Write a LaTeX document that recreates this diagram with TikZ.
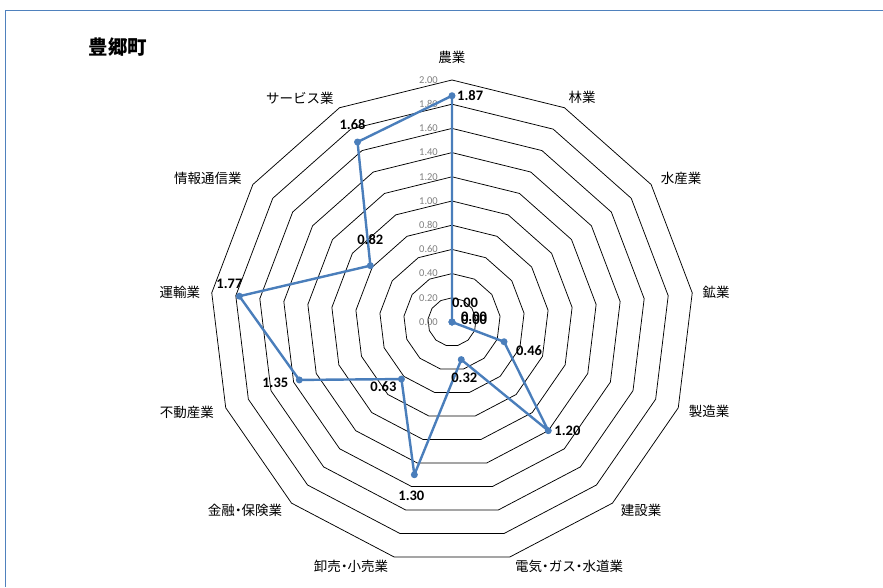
\documentclass[tikz,border=0pt]{standalone}
\usepackage{fontspec}
\setmainfont{Carlito}
\newfontfamily\jpfont{Noto Sans CJK JP}
\usepackage{tikz}
\usetikzlibrary{positioning}
\definecolor{seriesblue}{RGB}{74,126,187}
\definecolor{frameblue}{RGB}{79,129,189}
\newcommand\nakadot{\kern-.25em・\kern-.25em}

\begin{document}
\begin{tikzpicture}[x=1pt,y=1pt,
    ring/.style={draw=black, line width=0.75pt},
    cat/.style={font=\jpfont\fontsize{13.5}{14}\selectfont, inner sep=0pt},
    val/.style={font=\bfseries\fontsize{14.5}{15}\selectfont, inner sep=0pt},
    tick/.style={font=\fontsize{10.5}{11}\selectfont, text=black!50, anchor=east, inner sep=0pt},
    series/.style={draw=seriesblue, line width=2.4pt, line join=round},
    dot/.style={fill=seriesblue}]
    \useasboundingbox (-452,-265) rectangle (431,322);

    % Draw frame
    \draw[frameblue, line width=1pt] (431,311) -- (-446,311) -- (-446,-265);

    % Draw title
    \node[font=\jpfont\bfseries\fontsize{19.5}{20}\selectfont] (title) at (-334,275) {豊郷町};

    % Draw rings
    \foreach \r in {1,...,10}
        \draw[ring] (90:\r*24.2) \foreach \k in {1,...,12} { -- ({90-\k*360/13}:{\r*24.2}) } -- cycle;

    % Draw scale labels
    \foreach \i/\lab in {0/0.00,1/0.20,2/0.40,3/0.60,4/0.80,5/1.00,6/1.20,7/1.40,8/1.60,9/1.80,10/2.00}
        \node[tick] (t\i) at (-14,\i*24.2) {\lab};

    % Draw category labels
    \node[cat] (c0) at (0,265) {農業};
    \node[cat] (c1) at (130,225) {林業};
    \node[cat] (c2) at (229,144) {水産業};
    \node[cat] (c3) at (264,30) {鉱業};
    \node[cat] (c4) at (257,-89) {製造業};
    \node[cat] (c5) at (189,-188) {建設業};
    \node[cat] (c6) at (117,-244) {電気\nakadot ガス\nakadot 水道業};
    \node[cat] (c7) at (-101,-244) {卸売\nakadot 小売業};
    \node[cat] (c8) at (-207,-188) {金融\nakadot 保険業};
    \node[cat] (c9) at (-265,-90) {不動産業};
    \node[cat] (c10) at (-272,30) {運輸業};
    \node[cat] (c11) at (-244,144) {情報通信業};
    \node[cat] (c12) at (-152,224) {サービス業};

    % Draw data points
    \foreach \k/\v in {0/1.87,1/0,2/0,3/0,4/0.46,5/1.20,6/0.32,7/1.30,8/0.63,9/1.35,10/1.77,11/0.82,12/1.68}
        \coordinate (v\k) at ({90-\k*360/13}:{\v*121});
    \draw[series] (v0) -- (v1) -- (v2) -- (v3) -- (v4) -- (v5) -- (v6) -- (v7)
        -- (v8) -- (v9) -- (v10) -- (v11) -- (v12) -- cycle;
    \foreach \k in {0,...,12}
        \fill[dot] (v\k) circle (3.5);

    % Draw value labels
    \node[val, right=5pt of v0] (l0) {1.87};
    \node[val] (l1) at ([shift={(13,19)}]v1) {0.00};
    \node[val] (l2) at ([shift={(22,5)}]v2) {0.00};
    \node[val] (l3) at ([shift={(22,2)}]v3) {0.00};
    \node[val] (l4) at ([shift={(25,-9)}]v4) {0.46};
    \node[val, right=6pt of v5] (l5) {1.20};
    \node[val] (l6) at ([shift={(3,-18)}]v6) {0.32};
    \node[val] (l7) at ([shift={(-3,-21)}]v7) {1.30};
    \node[val] (l8) at ([shift={(-18,-8)}]v8) {0.63};
    \node[val] (l9) at ([shift={(-24,-3)}]v9) {1.35};
    \node[val] (l10) at ([shift={(-10,12)}]v10) {1.77};
    \node[val] (l11) at ([shift={(0,26)}]v11) {0.82};
    \node[val] (l12) at ([shift={(-5,17)}]v12) {1.68};
\end{tikzpicture}
\end{document}
